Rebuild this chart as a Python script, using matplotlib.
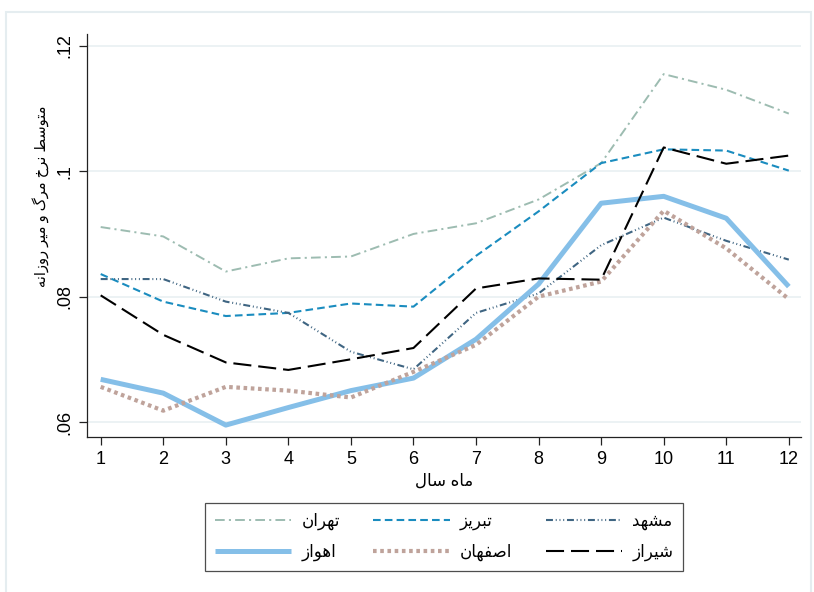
import matplotlib
matplotlib.use("Agg")
import matplotlib.pyplot as plt
from matplotlib.patches import Rectangle

plt.rcParams['font.family'] = ['Liberation Sans', 'DejaVu Sans']
plt.rcParams['lines.scale_dashes'] = False

# Data: average daily mortality rate by month of year
months = list(range(1, 13))
tehran = [0.0911, 0.0896, 0.0840, 0.0861, 0.0864, 0.0900, 0.0917, 0.0955, 0.1013, 0.1155, 0.1130, 0.1092]
tabriz = [0.0836, 0.0792, 0.0769, 0.0774, 0.0789, 0.0784, 0.0865, 0.0936, 0.1013, 0.1035, 0.1033, 0.1001]
mashhad = [0.0828, 0.0828, 0.0792, 0.0774, 0.0712, 0.0684, 0.0774, 0.0805, 0.0882, 0.0926, 0.0889, 0.0859]
ahvaz = [0.0668, 0.0646, 0.0595, 0.0623, 0.0650, 0.0670, 0.0732, 0.0820, 0.0949, 0.0960, 0.0925, 0.0816]
isfahan = [0.0656, 0.0618, 0.0656, 0.0650, 0.0639, 0.0680, 0.0723, 0.0800, 0.0824, 0.0937, 0.0877, 0.0796]
shiraz = [0.0802, 0.0739, 0.0695, 0.0683, 0.0700, 0.0718, 0.0813, 0.0829, 0.0827, 0.1038, 0.1012, 0.1025]

city_names = ['تهران', 'تبریز', 'مشهد', 'اهواز', 'اصفهان', 'شیراز']
ytick_values = [0.06, 0.08, 0.10, 0.12]
ytick_labels = ['.06', '.08', '.1', '.12']
x_label = 'ماه سال'
y_label = 'متوسط نرخ مرگ و میر روزانه'

# matplotlib has no Arabic shaping, so pick presentation forms by hand
FORMS = {
    'ا': ('\ufe8d', '\ufe8e'),
    'د': ('\ufea9', '\ufeaa'),
    'ر': ('\ufead', '\ufeae'),
    'ز': ('\ufeaf', '\ufeb0'),
    'و': ('\ufeed', '\ufeee'),
    'ب': ('\ufe8f', '\ufe90', '\ufe91', '\ufe92'),
    'ت': ('\ufe95', '\ufe96', '\ufe97', '\ufe98'),
    'خ': ('\ufea5', '\ufea6', '\ufea7', '\ufea8'),
    'س': ('\ufeb1', '\ufeb2', '\ufeb3', '\ufeb4'),
    'ش': ('\ufeb5', '\ufeb6', '\ufeb7', '\ufeb8'),
    'ص': ('\ufeb9', '\ufeba', '\ufebb', '\ufebc'),
    'ط': ('\ufec1', '\ufec2', '\ufec3', '\ufec4'),
    'ف': ('\ufed1', '\ufed2', '\ufed3', '\ufed4'),
    'ل': ('\ufedd', '\ufede', '\ufedf', '\ufee0'),
    'م': ('\ufee1', '\ufee2', '\ufee3', '\ufee4'),
    'ن': ('\ufee5', '\ufee6', '\ufee7', '\ufee8'),
    'ه': ('\ufee9', '\ufeea', '\ufeeb', '\ufeec'),
    'گ': ('\ufb92', '\ufb93', '\ufb94', '\ufb95'),
    'ی': ('\ufbfc', '\ufbfd', '\ufbfe', '\ufbff'),
}


def fa(text):
    out = []
    i = 0
    n = len(text)
    while i < n:
        c = text[i]
        if c not in FORMS:
            out.append(c)
            i += 1
            continue
        prev = text[i - 1] if i > 0 else ' '
        joins_prev = prev in FORMS and len(FORMS[prev]) == 4
        if c == 'ل' and i + 1 < n and text[i + 1] == 'ا':
            out.append('\ufefc' if joins_prev else '\ufefb')
            i += 2
            continue
        nxt = text[i + 1] if i + 1 < n else ' '
        joins_next = len(FORMS[c]) == 4 and nxt in FORMS
        f = FORMS[c]
        if joins_prev and joins_next:
            out.append(f[3])
        elif joins_prev:
            out.append(f[1])
        elif joins_next:
            out.append(f[2])
        else:
            out.append(f[0])
        i += 1
    return ''.join(reversed(out))


styles = [
    dict(color='#9dbcb1', lw=1.4, dashes=(7, 3, 1.5, 3)),
    dict(color='#1a8cbf', lw=1.5, dashes=(5.5, 3)),
    dict(color='#3f6582', lw=1.5, dashes=(5, 2, 0.7, 2, 0.7, 2, 0.7, 2)),
    dict(color='#85bfe8', lw=3.6, dashes=(None, None)),
    dict(color='#bfa39b', lw=3.0, dashes=(2.6, 2.6)),
    dict(color='#000000', lw=1.5, dashes=(13, 5)),
]
series = [tehran, tabriz, mashhad, ahvaz, isfahan, shiraz]

fig = plt.figure(figsize=(8.14, 5.92), dpi=100)
fig.patches.append(Rectangle((6 / 814, -0.05), 805 / 814, 1 - 12 / 592 + 0.05,
                             transform=fig.transFigure, fill=False,
                             edgecolor='#e5edf0', linewidth=1.5))
ax = fig.add_axes([87.3 / 814, 1 - 437 / 592, (800.7 - 87.3) / 814, (437 - 34) / 592])

lines = []
for name, vals, st in zip(city_names, series, styles):
    kw = dict(color=st['color'], linewidth=st['lw'], label=fa(name), solid_capstyle='butt',
              dash_capstyle='butt')
    if st['dashes'][0] is None:
        ln, = ax.plot(months, vals, **kw)
    else:
        ln, = ax.plot(months, vals, dashes=st['dashes'], **kw)
    lines.append(ln)

ax.set_xlim(0.786, 12.19)
ax.set_ylim(0.0576, 0.1219)
ax.set_xticks(months)
ax.set_xticklabels([str(m) for m in months], fontsize=13)
ax.set_yticks(ytick_values)
ax.set_yticklabels(ytick_labels, fontsize=13, rotation=90, va='center')
ax.tick_params(axis='both', direction='out', length=6, width=0.9, color='#222222', pad=4)

ax.grid(axis='y', color='#eaf1f3', linewidth=1.3)
ax.grid(axis='x', visible=False)
ax.set_axisbelow(True)
for spine in ['top', 'right']:
    ax.spines[spine].set_visible(False)
for spine in ['left', 'bottom']:
    ax.spines[spine].set_linewidth(0.9)
    ax.spines[spine].set_color('#222222')

fig.text(444 / 814, 1 - 481 / 592, fa(x_label), ha='center', va='center', fontsize=12)
fig.text(41 / 814, 1 - 196 / 592, fa(y_label), ha='center', va='center', fontsize=10.5,
         rotation=90)

# legend filled row by row like the original
order = [0, 3, 1, 4, 2, 5]
leg = fig.legend([lines[i] for i in order], [lines[i].get_label() for i in order],
                 ncol=3, loc='center', bbox_to_anchor=(444 / 814, 1 - 537 / 592),
                 fontsize=12, frameon=True, fancybox=False, edgecolor='#222222',
                 handlelength=4.6, handletextpad=0.6, columnspacing=2.0,
                 labelspacing=0.8, borderpad=0.6, markerfirst=True)
leg.get_frame().set_linewidth(0.9)

fig.savefig('out.png', dpi=100)
